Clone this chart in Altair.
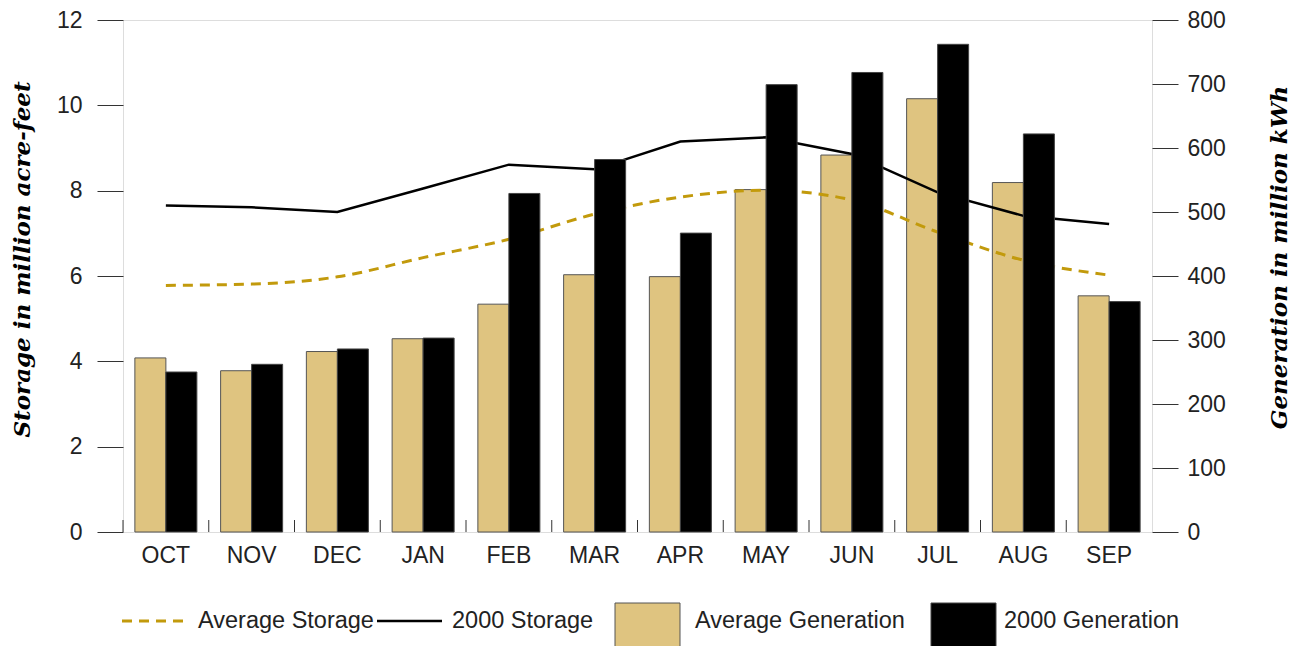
import altair as alt
import pandas as pd

months = ["OCT", "NOV", "DEC", "JAN", "FEB", "MAR", "APR", "MAY", "JUN", "JUL", "AUG", "SEP"]
avg_generation = [272, 252, 282, 302, 356, 402, 399, 535, 589, 677, 546, 369]
gen_2000 = [250, 262, 286, 303, 529, 582, 467, 699, 718, 762, 622, 360]
avg_storage = [5.78, 5.81, 5.98, 6.43, 6.86, 7.45, 7.85, 8.01, 7.78, 7.03, 6.37, 6.02]
storage_2000 = [7.65, 7.61, 7.50, 8.05, 8.61, 8.50, 9.15, 9.25, 8.86, 7.96, 7.41, 7.22]

gen_ticks = [0, 100, 200, 300, 400, 500, 600, 700, 800]
storage_ticks = [0, 2, 4, 6, 8, 10, 12]

W, H = 1029, 512
TAN = "#DFC480"
GOLD = "#C29A0C"
SANS = "Liberation Sans"
SERIF = "DejaVu Serif"
FS = 23
TFS = 23

avg_gen_df = pd.DataFrame({"month": months, "gen": avg_generation, "series": "avg"})
gen2000_df = pd.DataFrame({"month": months, "gen": gen_2000, "series": "y2000"})
avg_sto_df = pd.DataFrame({"month": months, "storage": avg_storage})
sto2000_df = pd.DataFrame({"month": months, "storage": storage_2000})
month_df = pd.DataFrame({"month": months})

xscale = alt.Scale(domain=months, paddingInner=0, paddingOuter=0)
xenc = alt.X("month:N", scale=xscale, sort=months,
             axis=alt.Axis(title=None, ticks=False, tickSize=0, domain=False,
                           labelFontSize=FS, labelFont=SANS, labelColor="#222",
                           labelBaseline="middle", labelPadding=23, labelAngle=0))
xoff_scale = alt.Scale(domain=["avg", "y2000"], paddingInner=0, paddingOuter=0.383)

gen_scale = alt.Scale(domain=[0, 800], nice=False, zero=True)
sto_scale = alt.Scale(domain=[0, 12], nice=False, zero=True)

tan_bars = alt.Chart(avg_gen_df).mark_bar(fill=TAN, stroke="#555", strokeWidth=1).encode(
    x=xenc,
    xOffset=alt.XOffset("series:N", scale=xoff_scale),
    y=alt.Y("gen:Q", scale=gen_scale,
            axis=alt.Axis(orient="right", values=gen_ticks, tickSize=26, tickColor="#333",
                          domain=False, grid=False, labelFontSize=FS, labelFont=SANS,
                          labelColor="#222", labelPadding=9,
                          title="Generation in million kWh", titleFont=SERIF,
                          titleFontSize=TFS, titleFontWeight="bold", titleFontStyle="italic",
                          titleColor="#000", titleAngle=270, titleX=127, titleY=237,
                          titleAlign="center", titleBaseline="middle")),
)

avg_line = alt.Chart(avg_sto_df).mark_line(color=GOLD, strokeWidth=3, strokeDash=[10, 7],
                                           interpolate="monotone").encode(
    x=alt.X("month:N", scale=xscale, sort=months),
    y=alt.Y("storage:Q", scale=sto_scale,
            axis=alt.Axis(orient="left", values=storage_ticks, tickSize=26, tickColor="#333",
                          domain=False, grid=False, labelFontSize=FS, labelFont=SANS,
                          labelColor="#222", labelPadding=15,
                          title="Storage in million acre-feet", titleFont=SERIF,
                          titleFontSize=TFS, titleFontWeight="bold", titleFontStyle="italic",
                          titleColor="#000", titleAngle=270, titleX=-101, titleY=239,
                          titleAlign="center", titleBaseline="middle")),
)

line_2000 = alt.Chart(sto2000_df).mark_line(color="#000", strokeWidth=2.5).encode(
    x=alt.X("month:N", scale=xscale, sort=months),
    y=alt.Y("storage:Q", scale=sto_scale, axis=None),
)

black_bars = alt.Chart(gen2000_df).mark_bar(fill="#000", stroke="#444", strokeWidth=1).encode(
    x=alt.X("month:N", scale=xscale, sort=months),
    xOffset=alt.XOffset("series:N", scale=xoff_scale),
    y=alt.Y("gen:Q", scale=gen_scale, axis=None),
)

inner_ticks = alt.Chart(month_df).mark_rule(color="#333", strokeWidth=1).encode(
    x=alt.X("month:N", scale=xscale, sort=months, bandPosition=0),
    y=alt.value(H),
    y2=alt.value(H - 12),
)

# Legend (built from marks placed below the plot)
LY = 601
leg_df = pd.DataFrame({"k": [0]})
leg_dash = alt.Chart(leg_df).mark_rule(color=GOLD, strokeWidth=3, strokeDash=[10, 7]).encode(
    x=alt.value(-1), x2=alt.value(62), y=alt.value(LY))
leg_solid = alt.Chart(leg_df).mark_rule(color="#000", strokeWidth=2.5).encode(
    x=alt.value(254), x2=alt.value(319), y=alt.value(LY))
leg_tan = alt.Chart(leg_df).mark_rect(fill=TAN, stroke="#555", strokeWidth=1).encode(
    x=alt.value(492), x2=alt.value(557), y=alt.value(583), y2=alt.value(635))
leg_black = alt.Chart(leg_df).mark_rect(fill="#000", stroke="#444", strokeWidth=1).encode(
    x=alt.value(808), x2=alt.value(873), y=alt.value(583), y2=alt.value(635))

def leg_text(label, x):
    return alt.Chart(pd.DataFrame({"t": [label]})).mark_text(
        align="left", baseline="middle", font=SANS, fontSize=23.5, color="#222").encode(
        text="t:N", x=alt.value(x), y=alt.value(LY))

chart = alt.layer(
    tan_bars, avg_line, line_2000, black_bars, inner_ticks,
    leg_dash, leg_solid, leg_tan, leg_black,
    leg_text("Average Storage", 75), leg_text("2000 Storage", 329),
    leg_text("Average Generation", 572), leg_text("2000 Generation", 881),
).resolve_scale(y="independent").properties(
    width=W, height=H,
    autosize=alt.AutoSizeParams(type="none"),
    padding={"left": 115, "top": 12, "right": 143, "bottom": 114},
).configure_view(stroke="#222", strokeWidth=1).configure(background="white")

chart.save("out.html", embed_options={"renderer": "svg", "actions": False})
